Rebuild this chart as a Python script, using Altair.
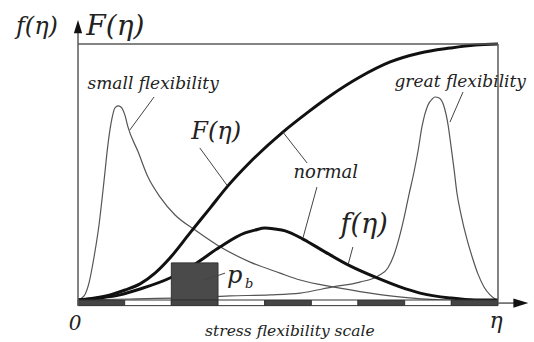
import altair as alt
import pandas as pd

# ---- stress flexibility scale: 9 segments from 0 to eta ----
seg_start = [0, 1, 2, 3, 4, 5, 6, 7, 8]
seg_fill = ["#454545", "#ffffff", "#454545", "#ffffff", "#454545",
            "#ffffff", "#454545", "#ffffff", "#454545"]

# ---- probability block p_b over segment [2, 3] ----
pb_x = [2.0, 3.0]
pb_height = 0.145

# ---- curves (x on the 0..9 scale, y normalised to the frame height) ----
small_x = [0, 0.13, 0.24, 0.34, 0.45, 0.56, 0.64, 0.73, 0.79, 0.86, 0.92, 1.01,
           1.07, 1.29, 1.50, 1.76, 2.08, 2.51, 2.98, 3.69, 4.33, 4.76, 5.46,
           6.26, 7.11, 7.97, 9.0]
small_y = [0, 0.016, 0.07, 0.164, 0.293, 0.469, 0.605, 0.711, 0.75, 0.758, 0.754,
           0.719, 0.676, 0.578, 0.48, 0.402, 0.332, 0.273, 0.215, 0.148, 0.105,
           0.078, 0.051, 0.027, 0.008, 0.0, 0.0]

great_x = [0, 1.11, 2.19, 3.26, 4.11, 4.76, 5.46, 6.04, 6.43, 6.64, 6.77, 6.88,
           6.99, 7.09, 7.20, 7.29, 7.37, 7.50, 7.59, 7.65, 7.74, 7.84, 7.93, 7.99,
           8.06, 8.12, 8.21, 8.34, 8.44, 8.57, 8.70, 8.83, 8.94, 9.0]
great_y = [0, 0.004, 0.008, 0.016, 0.02, 0.027, 0.051, 0.07, 0.094, 0.125, 0.176,
           0.242, 0.324, 0.41, 0.5, 0.586, 0.676, 0.762, 0.785, 0.793, 0.789,
           0.758, 0.684, 0.605, 0.508, 0.418, 0.332, 0.234, 0.172, 0.102, 0.051,
           0.02, 0.004, 0.0]

cdf_x = [0, 0.36, 0.69, 1.01, 1.33, 1.65, 1.97, 2.40, 2.83, 3.19, 3.69, 4.39,
         4.93, 5.40, 6.04, 6.69, 7.33, 7.97, 8.51, 9.0]
cdf_y = [0, 0.008, 0.02, 0.039, 0.063, 0.105, 0.164, 0.262, 0.359, 0.441, 0.539,
         0.656, 0.734, 0.797, 0.871, 0.93, 0.965, 0.984, 0.996, 1.0]

normal_x = [0, 0.47, 0.9, 1.33, 1.97, 2.51, 3.04, 3.58, 3.79, 4.01, 4.22, 4.44,
            4.82, 5.29, 5.83, 6.41, 6.9, 7.33, 7.97, 8.51, 9.0]
normal_y = [0, 0.008, 0.02, 0.043, 0.086, 0.141, 0.207, 0.262, 0.273, 0.281,
            0.277, 0.27, 0.238, 0.188, 0.133, 0.086, 0.051, 0.027, 0.008, 0.0, 0.0]

# ---- labels ----
label_text = ["f(η)", "F(η)", "small flexibility", "great flexibility", "F(η)",
              "normal", "f(η)", "p", "b", "0", "η", "stress flexibility scale"]
label_x = [-0.88, 0.80, 1.61, 8.19, 2.96, 5.31, 6.13, 3.36, 3.67, -0.06, 8.96, 4.54]
label_y = [1.066, 1.066, 0.844, 0.852, 0.656, 0.496, 0.293, 0.092, 0.062, -0.094,
           -0.082, -0.123]
label_size = [24, 28, 17, 17, 24, 18, 27, 24, 13, 20, 22, 15.5]

# ---- leader lines from labels to curves ----
lead_x = [1.63, 8.25, 2.61, 4.91, 5.12, 5.89, 2.72]
lead_y = [0.793, 0.8125, 0.594, 0.535, 0.441, 0.207, 0.078]
lead_x2 = [1.11, 7.97, 3.19, 4.39, 4.82, 5.79, 3.15]
lead_y2 = [0.664, 0.695, 0.449, 0.656, 0.242, 0.14, 0.105]

X = alt.Scale(domain=[0, 9], nice=False, zero=False)
Y = alt.Scale(domain=[0, 1], nice=False, zero=False)


def xq(name, **kw):
    return alt.X(name, type="quantitative", scale=X, axis=None, **kw)


def yq(name, **kw):
    return alt.Y(name, type="quantitative", scale=Y, axis=None, **kw)


def curve_frame(name, xs, ys):
    return pd.DataFrame({"series": name, "x": xs, "y": ys, "i": range(len(xs))})


thin = pd.concat([curve_frame("small", small_x, small_y),
                  curve_frame("great", great_x, great_y)])
thick = pd.concat([curve_frame("cdf", cdf_x, cdf_y),
                   curve_frame("normal", normal_x, normal_y)])

thin_lines = alt.Chart(thin).mark_line(
    color="#555555", strokeWidth=1.2, interpolate="monotone"
).encode(x=xq("x"), y=yq("y"), detail="series:N", order="i:Q")

thick_lines = alt.Chart(thick).mark_line(
    color="#111111", strokeWidth=3, interpolate="monotone"
).encode(x=xq("x"), y=yq("y"), detail="series:N", order="i:Q")

# frame: left axis, top edge, right edge, arrow shaft
frame_df = pd.DataFrame({
    "x": [0, 0, 9, 9],
    "y": [-0.022, 1.0, 0.0, -0.012],
    "x2": [0, 9, 9, 9.45],
    "y2": [1.06, 1.0, 1.0, -0.012],
})
frame = alt.Chart(frame_df).mark_rule(color="#5a5a5a", strokeWidth=1.5).encode(
    x=xq("x"), y=yq("y"), x2="x2:Q", y2="y2:Q")

arrow_up = alt.Chart(pd.DataFrame({"x": [0], "y": [1.068]})).mark_point(
    shape="M0,-1L0.62,1L-0.62,1Z", size=180, filled=True, opacity=1, color="#111111"
).encode(x=xq("x"), y=yq("y"))

arrow_right = alt.Chart(pd.DataFrame({"x": [9.49], "y": [-0.012]})).mark_point(
    shape="M1,0L-1,-0.62L-1,0.62Z", size=225, filled=True, opacity=1, color="#111111"
).encode(x=xq("x"), y=yq("y"))

bar_df = pd.DataFrame({
    "x": seg_start,
    "x2": [s + 1 for s in seg_start],
    "fill": seg_fill,
    "y": [0.0] * 9,
    "y2": [-0.022] * 9,
})
bar = alt.Chart(bar_df).mark_rect(stroke="#333333", strokeWidth=1).encode(
    x=xq("x"), x2="x2:Q", y=yq("y"), y2="y2:Q",
    fill=alt.Fill("fill:N", scale=None))

block = alt.Chart(pd.DataFrame({"x": [pb_x[0]], "x2": [pb_x[1]],
                                "y": [0.0], "y2": [pb_height]})).mark_rect(
    fill="#4a4a4a", stroke="#333333", strokeWidth=1
).encode(x=xq("x"), x2="x2:Q", y=yq("y"), y2="y2:Q")

leaders = alt.Chart(pd.DataFrame({"x": lead_x, "y": lead_y,
                                  "x2": lead_x2, "y2": lead_y2})).mark_rule(
    color="#444444", strokeWidth=1
).encode(x=xq("x"), y=yq("y"), x2="x2:Q", y2="y2:Q")

labels = alt.Chart(pd.DataFrame({"t": label_text, "x": label_x, "y": label_y,
                                 "s": label_size})).mark_text(
    font="DejaVu Serif", fontStyle="italic", color="#222222",
    align="center", baseline="middle"
).encode(x=xq("x"), y=yq("y"), text="t:N", size=alt.Size("s:Q", scale=None))

chart = alt.layer(
    thin_lines, thick_lines, block, bar, frame, arrow_up, arrow_right,
    leaders, labels
).properties(
    width=420, height=256,
    autosize=alt.AutoSizeParams(type="none"),
    padding={"left": 78, "top": 44, "right": 36, "bottom": 42},
    background="white",
).configure_view(stroke=None)

chart.save("out.html", embed_options={"renderer": "svg", "actions": False})
